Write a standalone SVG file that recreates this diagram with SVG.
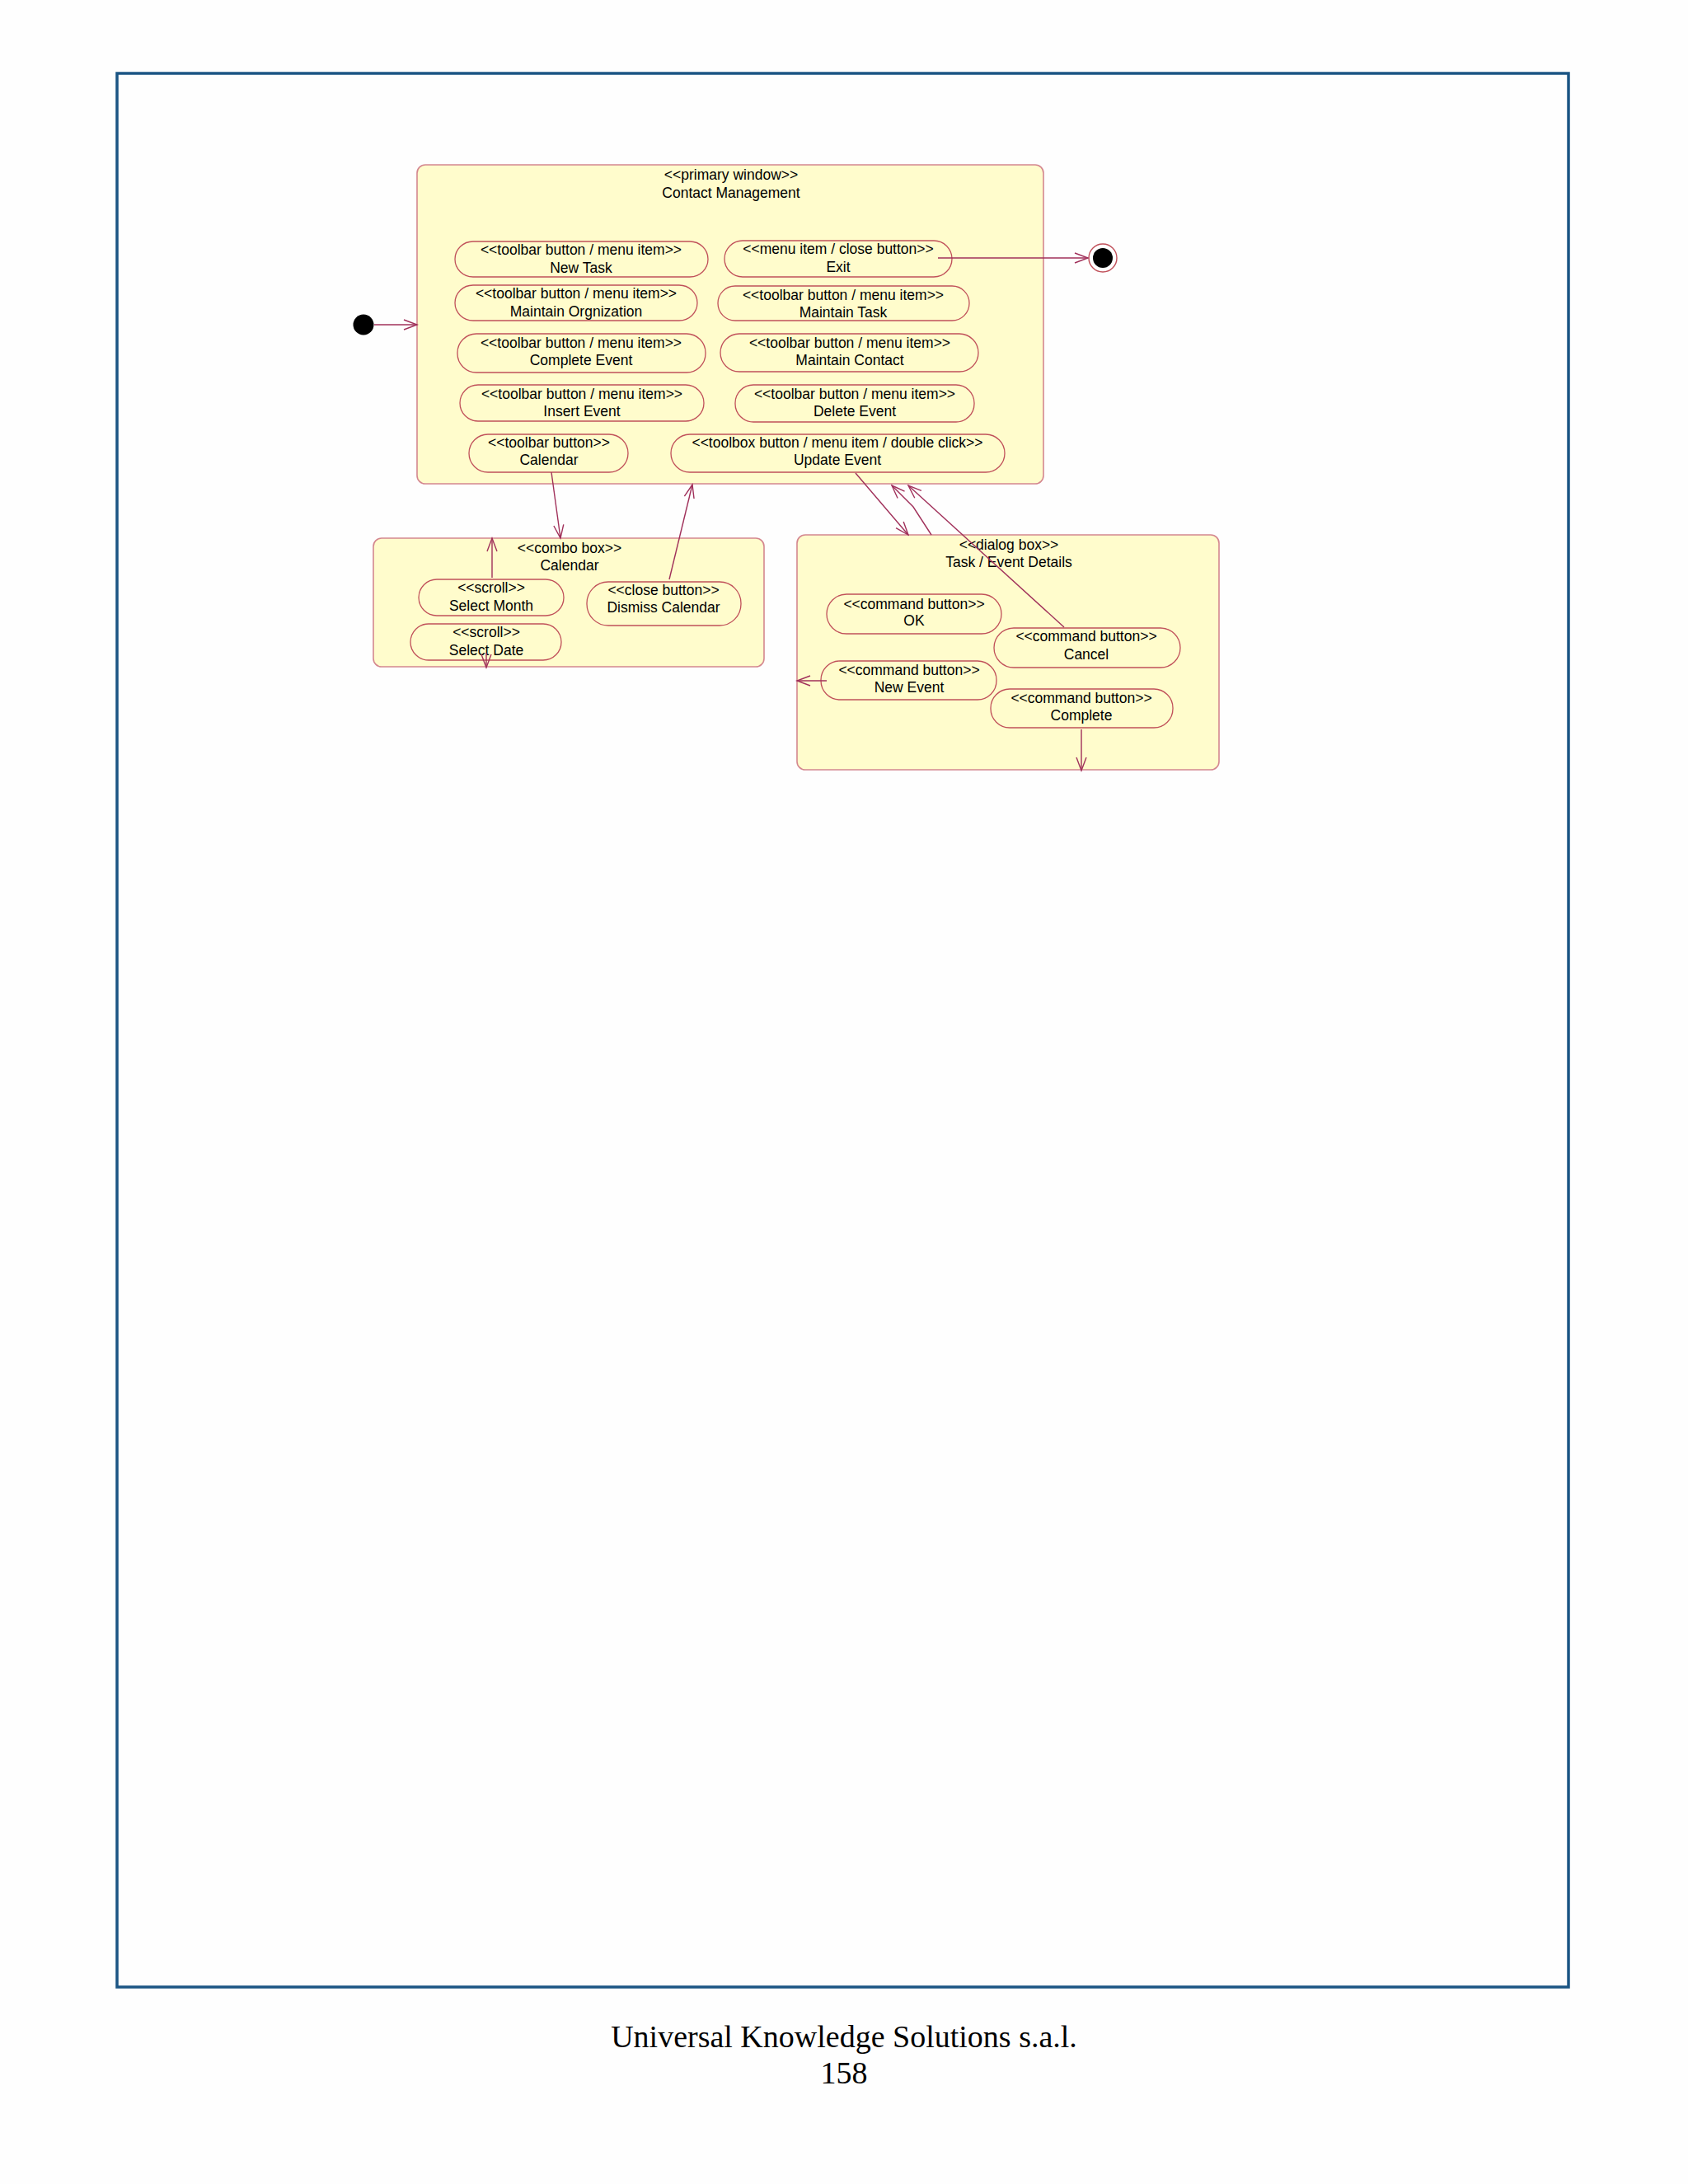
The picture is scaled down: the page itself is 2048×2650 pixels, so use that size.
<svg xmlns="http://www.w3.org/2000/svg" width="2048" height="2650" viewBox="0 0 2048 2650">
<style>
.pg{fill:#fefefe}
.frame{fill:none;stroke:#1b5584;stroke-width:3.5}
.box{fill:#fffccc;stroke:#d4878f;stroke-width:1.6}
.btn{fill:#fffccc;stroke:#c0505a;stroke-width:1.3}
.t{font-family:"Liberation Sans",Arial,sans-serif;font-size:17.5px;fill:#000;text-anchor:middle}
.ft{font-family:"Liberation Serif","Times New Roman",serif;font-size:38px;fill:#000;text-anchor:middle}
.c{fill:none;stroke:#a0305a;stroke-width:1.4}
</style>
<defs>
<marker id="arr" viewBox="-18 -10 20 20" refX="0" refY="0" markerWidth="20" markerHeight="20" markerUnits="userSpaceOnUse" orient="auto">
<path d="M-16,-6 L0,0 L-16,6" fill="none" stroke="#a0305a" stroke-width="1.4"/>
</marker>
</defs>
<rect class="pg" x="0" y="0" width="2048" height="2650"/>
<rect class="frame" x="142" y="89" width="1761" height="2322"/>

<g id="initial"><circle cx="441" cy="394" r="12.5" fill="#000"/></g>
<g id="final"><circle cx="1338" cy="313" r="17" fill="#fff" stroke="#c0505a" stroke-width="1.4"/><circle cx="1338" cy="313" r="12" fill="#000"/></g>

<g id="primary-window">
<rect class="box" x="506" y="200" width="760" height="387" rx="10"/>
<text class="t" x="887" y="218">&lt;&lt;primary window&gt;&gt;</text>
<text class="t" x="887" y="240">Contact Management</text>
</g>
<g id="new-task"><rect class="btn" x="552" y="293" width="307" height="43" rx="22"/><text class="t" x="705" y="309">&lt;&lt;toolbar button / menu item&gt;&gt;</text><text class="t" x="705" y="331">New Task</text></g>
<g id="maintain-org"><rect class="btn" x="552" y="346" width="294" height="43" rx="22"/><text class="t" x="699" y="362">&lt;&lt;toolbar button / menu item&gt;&gt;</text><text class="t" x="699" y="384">Maintain Orgnization</text></g>
<g id="complete-event"><rect class="btn" x="555" y="405" width="301" height="47" rx="23"/><text class="t" x="705" y="422">&lt;&lt;toolbar button / menu item&gt;&gt;</text><text class="t" x="705" y="443">Complete Event</text></g>
<g id="insert-event"><rect class="btn" x="558" y="467" width="296" height="44" rx="22"/><text class="t" x="706" y="484">&lt;&lt;toolbar button / menu item&gt;&gt;</text><text class="t" x="706" y="505">Insert Event</text></g>
<g id="calendar-btn"><rect class="btn" x="569" y="527" width="193" height="46" rx="23"/><text class="t" x="666" y="543">&lt;&lt;toolbar button&gt;&gt;</text><text class="t" x="666" y="564">Calendar</text></g>
<g id="exit"><rect class="btn" x="879" y="292" width="276" height="44" rx="22"/><text class="t" x="1017" y="308">&lt;&lt;menu item / close button&gt;&gt;</text><text class="t" x="1017" y="330">Exit</text></g>
<g id="maintain-task"><rect class="btn" x="871" y="347" width="305" height="42" rx="21"/><text class="t" x="1023" y="364">&lt;&lt;toolbar button / menu item&gt;&gt;</text><text class="t" x="1023" y="385">Maintain Task</text></g>
<g id="maintain-contact"><rect class="btn" x="874" y="405" width="313" height="46" rx="23"/><text class="t" x="1031" y="422">&lt;&lt;toolbar button / menu item&gt;&gt;</text><text class="t" x="1031" y="443">Maintain Contact</text></g>
<g id="delete-event"><rect class="btn" x="892" y="467" width="290" height="45" rx="22"/><text class="t" x="1037" y="484">&lt;&lt;toolbar button / menu item&gt;&gt;</text><text class="t" x="1037" y="505">Delete Event</text></g>
<g id="update-event"><rect class="btn" x="814" y="527" width="405" height="46" rx="23"/><text class="t" x="1016" y="543">&lt;&lt;toolbox button / menu item / double click&gt;&gt;</text><text class="t" x="1016" y="564">Update Event</text></g>

<g id="combo-calendar">
<rect class="box" x="453" y="653" width="474" height="156" rx="10"/>
<text class="t" x="691" y="671">&lt;&lt;combo box&gt;&gt;</text>
<text class="t" x="691" y="692">Calendar</text>
</g>
<g id="select-month"><rect class="btn" x="508" y="703" width="176" height="44" rx="22"/><text class="t" x="596" y="719">&lt;&lt;scroll&gt;&gt;</text><text class="t" x="596" y="741">Select Month</text></g>
<g id="select-date"><rect class="btn" x="498" y="757" width="183" height="44" rx="22"/><text class="t" x="590" y="773">&lt;&lt;scroll&gt;&gt;</text><text class="t" x="590" y="795">Select Date</text></g>
<g id="dismiss-calendar"><rect class="btn" x="712" y="706" width="187" height="53" rx="26"/><text class="t" x="805" y="722">&lt;&lt;close button&gt;&gt;</text><text class="t" x="805" y="743">Dismiss Calendar</text></g>

<g id="dialog-box">
<rect class="box" x="967" y="649" width="512" height="285" rx="10"/>
<text class="t" x="1224" y="667">&lt;&lt;dialog box&gt;&gt;</text>
<text class="t" x="1224" y="688">Task / Event Details</text>
</g>
<g id="ok"><rect class="btn" x="1003" y="721" width="212" height="48" rx="24"/><text class="t" x="1109" y="739">&lt;&lt;command button&gt;&gt;</text><text class="t" x="1109" y="759">OK</text></g>
<g id="cancel"><rect class="btn" x="1206" y="762" width="226" height="48" rx="24"/><text class="t" x="1318" y="778">&lt;&lt;command button&gt;&gt;</text><text class="t" x="1318" y="800">Cancel</text></g>
<g id="new-event"><rect class="btn" x="996" y="802" width="213" height="47" rx="23"/><text class="t" x="1103" y="819">&lt;&lt;command button&gt;&gt;</text><text class="t" x="1103" y="840">New Event</text></g>
<g id="complete"><rect class="btn" x="1202" y="836" width="221" height="47" rx="23"/><text class="t" x="1312" y="853">&lt;&lt;command button&gt;&gt;</text><text class="t" x="1312" y="874">Complete</text></g>

<g id="connectors">
<line class="c" x1="454" y1="394" x2="506" y2="394" marker-end="url(#arr)"/>
<line class="c" x1="1138" y1="313" x2="1320" y2="313" marker-end="url(#arr)"/>
<line class="c" x1="669" y1="573" x2="680" y2="653" marker-end="url(#arr)"/>
<line class="c" x1="812" y1="703" x2="840" y2="588" marker-end="url(#arr)"/>
<line class="c" x1="597" y1="701" x2="597" y2="653" marker-end="url(#arr)"/>
<line class="c" x1="590" y1="792" x2="590" y2="810" marker-end="url(#arr)"/>
<line class="c" x1="1038" y1="574" x2="1102" y2="649" marker-end="url(#arr)"/>
<polyline class="c" points="1130,649 1108,615 1082,589" marker-end="url(#arr)"/>
<line class="c" x1="1291" y1="761" x2="1102" y2="589" marker-end="url(#arr)"/>
<line class="c" x1="1003" y1="826" x2="967" y2="826" marker-end="url(#arr)"/>
<line class="c" x1="1312" y1="885" x2="1312" y2="935" marker-end="url(#arr)"/>
</g>

<text class="ft" x="1024" y="2484">Universal Knowledge Solutions s.a.l.</text>
<text class="ft" x="1024" y="2528">158</text>
</svg>
